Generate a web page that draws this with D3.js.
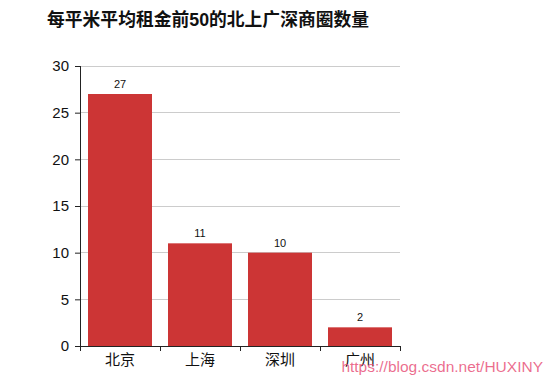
<!DOCTYPE html>
<html><head><meta charset="utf-8">
<script src="https://cdn.jsdelivr.net/npm/d3@7"></script>
<style>
body{margin:0;background:#fff;}
text{font-family:"Helvetica Neue",Helvetica,Arial,"Liberation Sans","Noto Sans CJK SC",sans-serif;}
</style></head>
<body><svg id="c" width="554" height="385"></svg>
<script>
const categories = ["北京","上海","深圳","广州"];
const values = [27, 11, 10, 2];
const yTicks = [0,5,10,15,20,25,30];
const title = "每平米平均租金前50的北上广深商圈数量";
const watermark = "https://blog.csdn.net/HUXINY";

const svg = d3.select("#c");
const m = {left:80, right:154, top:66, bottom:39};
const W = 554, H = 385;
const x = d3.scaleBand().domain(categories).range([m.left, W-m.right]).paddingInner(0.2).paddingOuter(0.1);
const y = d3.scaleLinear().domain([0,30]).range([H-m.bottom, m.top]);

svg.append("text").attr("x",47).attr("y",26).attr("font-size",17.8).attr("font-weight","bold").attr("fill","#111").text(title);

svg.append("g").selectAll("line").data(yTicks.filter(d=>d>0)).join("line")
  .attr("x1",m.left).attr("x2",W-m.right).attr("y1",d=>y(d)).attr("y2",d=>y(d))
  .attr("stroke","#cccccc").attr("stroke-width",1).attr("shape-rendering","crispEdges");

svg.append("g").selectAll("rect").data(values).join("rect")
  .attr("x",(d,i)=>x(categories[i])).attr("width",x.bandwidth())
  .attr("y",d=>y(d)).attr("height",d=>y(0)-y(d)).attr("fill","#cc3535");

svg.append("g").selectAll("text").data(values).join("text")
  .attr("x",(d,i)=>x(categories[i])+x.bandwidth()/2).attr("y",d=>y(d)-6)
  .attr("text-anchor","middle").attr("font-size",11).attr("fill","#111").text(d=>d);

const ya = svg.append("g").attr("transform",`translate(${m.left},0)`)
  .call(d3.axisLeft(y).tickValues(yTicks).tickSize(5).tickPadding(6));
ya.selectAll("text").attr("font-size",15).attr("fill","#111").style("font-family",'"Helvetica Neue",Helvetica,Arial,"Liberation Sans",sans-serif');
ya.selectAll("line,path").attr("stroke","#222");
ya.select("path").attr("d",`M0.5,${y(30)}V${y(0)}`);

const xa = svg.append("g").attr("transform",`translate(0,${y(0)})`)
  .call(d3.axisBottom(x).tickSize(0).tickPadding(8));
xa.selectAll("text").attr("font-size",15).attr("fill","#111").style("font-family",'"Noto Sans CJK SC",sans-serif').attr("dy","0.75em");
xa.select("path").attr("stroke","#222").attr("d",`M${m.left},0.5H${W-m.right}`);
svg.append("g").selectAll("line").data(d3.range(5)).join("line")
  .attr("x1",i=>m.left+i*(W-m.left-m.right)/4+0.5).attr("x2",i=>m.left+i*(W-m.left-m.right)/4+0.5)
  .attr("y1",y(0)).attr("y2",y(0)+5).attr("stroke","#222");

svg.append("text").attr("x",543).attr("y",372).attr("text-anchor","end").attr("font-size",15.5)
  .attr("fill","#e8537a").attr("fill-opacity",0.85).text(watermark);
</script></body></html>
